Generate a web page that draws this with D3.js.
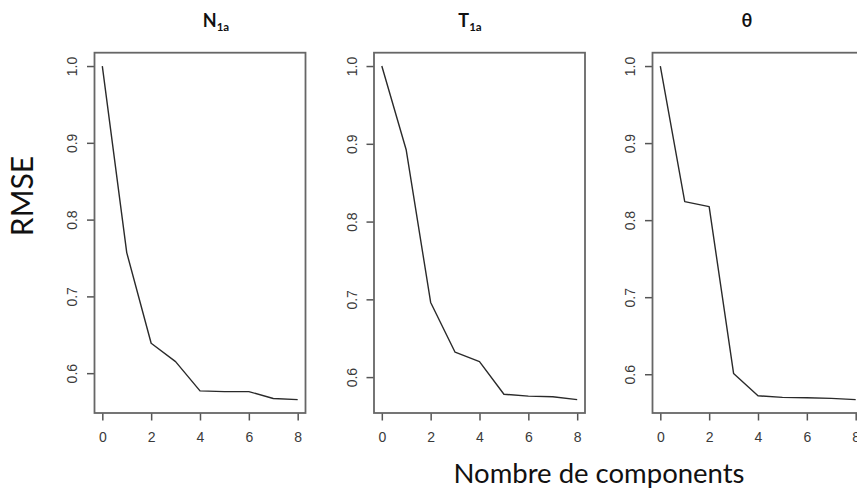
<!DOCTYPE html>
<html>
<head>
<meta charset="utf-8">
<script src="https://cdn.jsdelivr.net/npm/d3@7/dist/d3.min.js"></script>
<style>
  html, body { margin: 0; padding: 0; background: #fff; }
  svg { display: block; }
</style>
</head>
<body>
<svg id="chart" width="857" height="489"></svg>
<script>
// Number of principal components retained (x axis)
const components = [0, 1, 2, 3, 4, 5, 6, 7, 8];

// RMSE for each retained number of components, one series per variable
const rmseN1a   = [1.000, 0.757, 0.639, 0.615, 0.577, 0.576, 0.576, 0.567, 0.5655];
const rmseT1a   = [1.000, 0.892, 0.696, 0.632, 0.620, 0.578, 0.5755, 0.5748, 0.571];
const rmseTheta = [1.000, 0.824, 0.8175, 0.601, 0.572, 0.570, 0.5694, 0.5686, 0.567];

// Panel titles: main glyph and subscript
const titleMain = ["N", "T", "\u03B8"];
const titleSub  = ["1a", "1a", ""];

// Axis tick values
const xTicks = [0, 2, 4, 6, 8];
const yTicks = [0.6, 0.7, 0.8, 0.9, 1.0];

const yLabel = "RMSE";
const xLabel = "Nombre de components";

// ---- layout ----
const panelLeft = [94.5, 374, 652.5];
const panelWidth = 211;
const plotTop = 52.7;
const plotBottom = 413;
const titleShift = [16, -9.5, -11];   // horizontal nudge of each panel title
const tickLen = 7.5;

const svg = d3.select("#chart");
const series = [rmseN1a, rmseT1a, rmseTheta];

// R-style axis extent: data range padded by 4% on each side
function padded(ext) {
  const r = ext[1] - ext[0];
  return [ext[0] - 0.04 * r, ext[1] + 0.04 * r];
}

series.forEach((vals, i) => {
  const left = panelLeft[i];
  const x = d3.scaleLinear()
    .domain(padded(d3.extent(components)))
    .range([left, left + panelWidth]);
  const y = d3.scaleLinear()
    .domain(padded(d3.extent(vals)))
    .range([plotBottom, plotTop]);

  const g = svg.append("g");

  // bottom axis
  const xa = g.append("g")
    .attr("transform", `translate(0,${plotBottom})`)
    .call(d3.axisBottom(x).tickValues(xTicks).tickSize(tickLen).tickPadding(12)
      .tickFormat(d3.format("d")));
  xa.select(".domain").remove();
  xa.selectAll("line").attr("stroke", "#555").attr("stroke-width", 1.5);
  xa.selectAll("text")
    .attr("fill", "#3a3a3a")
    .style("font-family", "'Liberation Sans', Arial, sans-serif")
    .style("font-size", "14px");

  // left axis, labels parallel to the axis
  const ya = g.append("g")
    .attr("transform", `translate(${left},0)`)
    .call(d3.axisLeft(y).tickValues(yTicks).tickSize(tickLen)
      .tickFormat(d3.format(".1f")));
  ya.select(".domain").remove();
  ya.selectAll("line").attr("stroke", "#555").attr("stroke-width", 1.5);
  ya.selectAll("text")
    .attr("fill", "#3a3a3a")
    .attr("x", null).attr("dy", null)
    .attr("text-anchor", "middle")
    .attr("transform", "translate(-17.5,0) rotate(-90)")
    .style("font-family", "'Liberation Sans', Arial, sans-serif")
    .style("font-size", "14px");

  // series line
  const line = d3.line()
    .x((d, k) => x(components[k]))
    .y(d => y(d));
  g.append("path")
    .datum(vals)
    .attr("d", line)
    .attr("fill", "none")
    .attr("stroke", "#2a2a2a")
    .attr("stroke-width", 1.4)
    .attr("stroke-linejoin", "round");

  // plot box
  g.append("rect")
    .attr("x", left).attr("y", plotTop)
    .attr("width", panelWidth).attr("height", plotBottom - plotTop)
    .attr("fill", "none")
    .attr("stroke", "#666")
    .attr("stroke-width", 1.8);

  // panel title
  const t = svg.append("text")
    .attr("x", left + panelWidth / 2 + titleShift[i])
    .attr("y", 27)
    .attr("text-anchor", "middle")
    .style("font-family", "Lato, 'Open Sans', 'DejaVu Sans', sans-serif")
    .style("font-weight", "bold")
    .style("font-size", "18px")
    .attr("fill", "#111");
  t.append("tspan").text(titleMain[i]);
  if (titleSub[i]) {
    t.append("tspan").attr("dy", 4).style("font-size", "11.5px").text(titleSub[i]);
  }
});

// shared axis titles
svg.append("text")
  .attr("transform", "translate(33,196) rotate(-90)")
  .attr("text-anchor", "middle")
  .style("font-family", "Lato, 'Open Sans', sans-serif")
  .style("font-size", "30px")
  .attr("fill", "#111")
  .text(yLabel);

svg.append("text")
  .attr("x", 599)
  .attr("y", 483)
  .attr("text-anchor", "middle")
  .style("font-family", "Lato, 'Open Sans', sans-serif")
  .style("font-size", "27.5px")
  .attr("fill", "#111")
  .text(xLabel);
</script>
</body>
</html>
